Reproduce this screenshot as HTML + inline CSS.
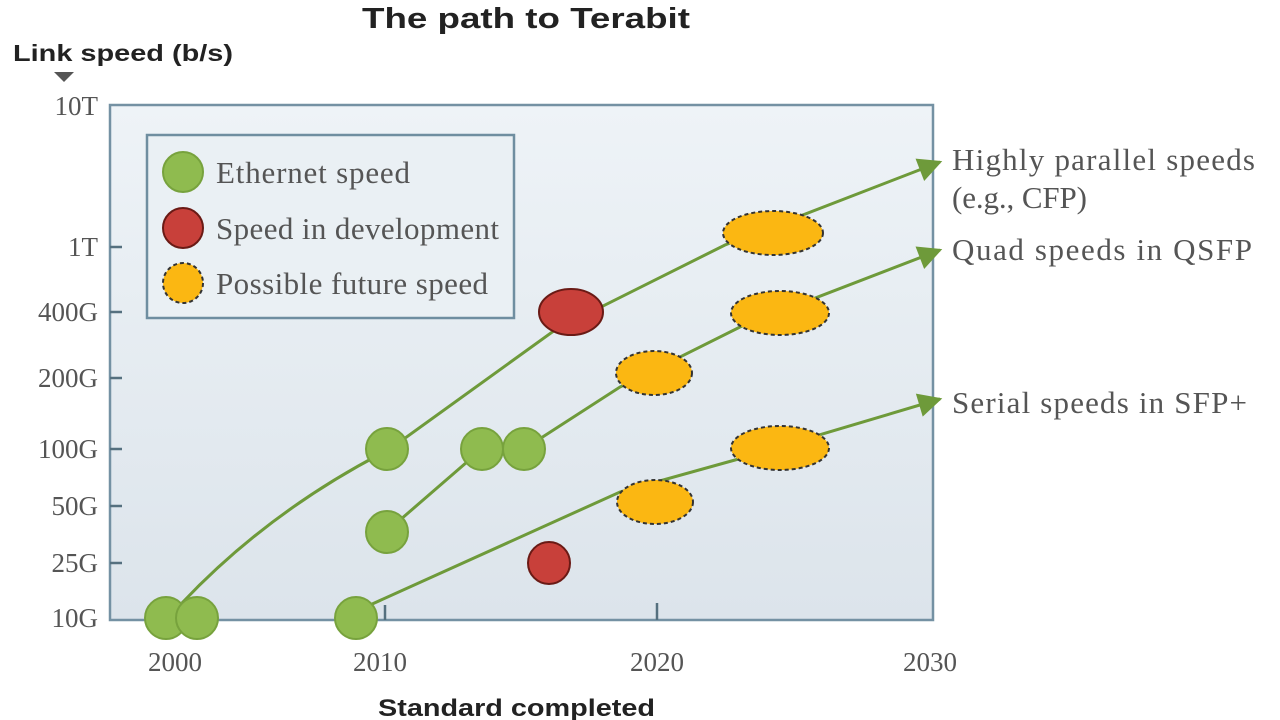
<!DOCTYPE html>
<html><head><meta charset="utf-8"><style>
html,body{margin:0;padding:0;background:#fff;width:1280px;height:720px;overflow:hidden}
</style></head><body>
<svg width="1280" height="720" xmlns="http://www.w3.org/2000/svg">
<defs>
<linearGradient id="bg" x1="0" y1="0" x2="0" y2="1">
<stop offset="0" stop-color="#eef3f7"/><stop offset="1" stop-color="#dce4eb"/></linearGradient>
<marker id="ar" viewBox="0 0 10 10" refX="9" refY="5" markerWidth="9" markerHeight="8" orient="auto" markerUnits="strokeWidth"><path d="M0,0L10,5L0,10z" fill="#6e9a3a"/></marker>
</defs>
<text x="362" y="28" font-family="Liberation Sans, sans-serif" font-weight="bold" font-size="29" fill="#222" textLength="328" lengthAdjust="spacingAndGlyphs">The path to Terabit</text>
<text x="13" y="61" font-family="Liberation Sans, sans-serif" font-weight="bold" font-size="23" fill="#222" textLength="220" lengthAdjust="spacingAndGlyphs">Link speed (b/s)</text>
<path d="M54,72L74,72L64,82z" fill="#555"/>
<rect x="110" y="105" width="823" height="515" fill="url(#bg)" stroke="#7491a3" stroke-width="2.5"/>
<g stroke="#55707f" stroke-width="2.5">
<line x1="110" y1="247" x2="122" y2="247"/><line x1="110" y1="312" x2="122" y2="312"/>
<line x1="110" y1="378" x2="122" y2="378"/><line x1="110" y1="449" x2="122" y2="449"/>
<line x1="110" y1="506" x2="122" y2="506"/><line x1="110" y1="563" x2="122" y2="563"/>
<line x1="385" y1="605" x2="385" y2="620"/><line x1="657" y1="603" x2="657" y2="620"/>
</g>
<g font-family="Liberation Serif, serif" font-size="27" fill="#555" text-anchor="end">
<text x="98" y="115">10T</text><text x="98" y="256">1T</text><text x="98" y="321">400G</text>
<text x="98" y="387">200G</text><text x="98" y="458">100G</text><text x="98" y="515">50G</text>
<text x="98" y="572">25G</text><text x="98" y="627">10G</text>
</g>
<g font-family="Liberation Serif, serif" font-size="27" fill="#555" text-anchor="middle">
<text x="175" y="671">2000</text><text x="380" y="671">2010</text><text x="657" y="671">2020</text><text x="930" y="671">2030</text>
</g>
<text x="378" y="716" font-family="Liberation Sans, sans-serif" font-weight="bold" font-size="24" fill="#222" textLength="277" lengthAdjust="spacingAndGlyphs">Standard completed</text>
<rect x="147" y="135" width="367" height="183" fill="#eaf0f4" stroke="#6f8ea0" stroke-width="2.5"/>
<circle cx="183" cy="172" r="20" fill="#8fbb4f" stroke="#77a23d" stroke-width="2"/>
<circle cx="183" cy="228" r="20" fill="#c8403a" stroke="#6a1a15" stroke-width="2"/>
<circle cx="183" cy="283" r="20" fill="#fbb712" stroke="#333" stroke-width="2" stroke-dasharray="4,3"/>
<g font-family="Liberation Serif, serif" font-size="31" fill="#555" lengthAdjust="spacingAndGlyphs">
<text x="216" y="183" textLength="194">Ethernet speed</text>
<text x="216" y="239" textLength="283">Speed in development</text>
<text x="216" y="294" textLength="272">Possible future speed</text>
<text x="952" y="170" textLength="303">Highly parallel speeds</text>
<text x="952" y="208" textLength="135">(e.g., CFP)</text>
<text x="952" y="260" textLength="300">Quad speeds in QSFP</text>
<text x="952" y="413" textLength="295">Serial speeds in SFP+</text>
</g>
<g fill="none" stroke="#6e9a3a" stroke-width="3">
<path d="M182,603 Q270,510 390,449 L555,330 L725,245 L940,162" marker-end="url(#ar)"/>
<path d="M400,520 L482,449 L524,449 L620,387 L740,327 L940,250" marker-end="url(#ar)"/>
<path d="M370,605 L620,492 L735,460 L940,399" marker-end="url(#ar)"/>
</g>
<g fill="#8fbb4f" stroke="#77a23d" stroke-width="2">
<circle cx="166" cy="618" r="21"/><circle cx="197" cy="618" r="21"/><circle cx="356" cy="618" r="21"/>
<circle cx="387" cy="449" r="21"/><circle cx="387" cy="532" r="21"/><circle cx="482" cy="449" r="21"/><circle cx="524" cy="449" r="21"/>
</g>
<g fill="#c8403a" stroke="#6a1a15" stroke-width="2">
<ellipse cx="571" cy="312" rx="32" ry="23"/><circle cx="549" cy="563" r="21"/>
</g>
<g fill="#fbb712" stroke="#333" stroke-width="2" stroke-dasharray="4,3">
<ellipse cx="773" cy="233" rx="50" ry="22"/><ellipse cx="654" cy="373" rx="38" ry="22"/>
<ellipse cx="780" cy="313" rx="49" ry="22"/><ellipse cx="655" cy="502" rx="38" ry="22"/>
<ellipse cx="780" cy="448" rx="49" ry="22"/>
</g>
</svg>
</body></html>
